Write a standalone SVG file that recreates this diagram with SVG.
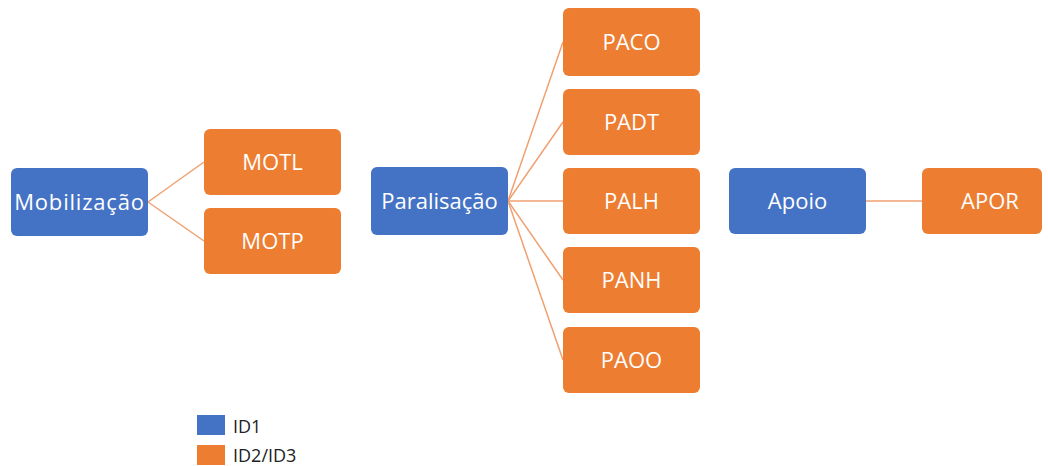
<svg xmlns="http://www.w3.org/2000/svg" width="1048" height="466" viewBox="0 0 1048 466">
<style>
.b{fill:#4472C4}
.o{fill:#ED7D31}
.t{font-family:"Open Sans","Liberation Sans",sans-serif;font-size:22px;fill:#FFFFFF;text-anchor:middle;dominant-baseline:central}
.l{font-family:"Open Sans","Liberation Sans",sans-serif;font-size:18px;fill:#222222}
.c{stroke:#F0A070;stroke-width:1.5;fill:none}
</style>
<rect width="1048" height="466" fill="#FFFFFF"/>
<g id="connectors">
<line class="c" x1="148" y1="202" x2="204" y2="162"/>
<line class="c" x1="148" y1="202" x2="204" y2="241"/>
<line class="c" x1="508" y1="201" x2="563" y2="42"/>
<line class="c" x1="508" y1="201" x2="563" y2="122"/>
<line class="c" x1="508" y1="201" x2="563" y2="201"/>
<line class="c" x1="508" y1="201" x2="563" y2="280"/>
<line class="c" x1="508" y1="201" x2="563" y2="360"/>
<line class="c" x1="866" y1="201" x2="922" y2="201"/>
</g>
<g id="mobilizacao"><rect class="b" x="11" y="168" width="137" height="68" rx="6"/><text class="t" x="79.5" y="201" letter-spacing="0.8">Mobilização</text></g>
<g id="motl"><rect class="o" x="204" y="129" width="137" height="66" rx="6"/><text class="t" x="272.5" y="161">MOTL</text></g>
<g id="motp"><rect class="o" x="204" y="208" width="137" height="66" rx="6"/><text class="t" x="272.5" y="240">MOTP</text></g>
<g id="paralisacao"><rect class="b" x="371" y="167" width="137" height="68" rx="6"/><text class="t" x="439.5" y="200">Paralisação</text></g>
<g id="paco"><rect class="o" x="563" y="8" width="137" height="68" rx="6"/><text class="t" x="631.5" y="41">PACO</text></g>
<g id="padt"><rect class="o" x="563" y="89" width="137" height="66" rx="6"/><text class="t" x="631.5" y="121">PADT</text></g>
<g id="palh"><rect class="o" x="563" y="168" width="137" height="66" rx="6"/><text class="t" x="631.5" y="200">PALH</text></g>
<g id="panh"><rect class="o" x="563" y="247" width="137" height="66" rx="6"/><text class="t" x="631.5" y="279">PANH</text></g>
<g id="paoo"><rect class="o" x="563" y="327" width="137" height="66" rx="6"/><text class="t" x="631.5" y="359">PAOO</text></g>
<g id="apoio"><rect class="b" x="729" y="168" width="137" height="66" rx="6"/><text class="t" x="797.5" y="200">Apoio</text></g>
<g id="apor"><rect class="o" x="922" y="168" width="120" height="66" rx="6"/><text class="t" x="990" y="200">APOR</text></g>
<g id="legend">
<rect class="b" x="197" y="415" width="28" height="20"/>
<text class="l" x="233" y="433">ID1</text>
<rect class="o" x="197" y="445" width="28" height="20"/>
<text class="l" x="233" y="462">ID2/ID3</text>
</g>
</svg>
